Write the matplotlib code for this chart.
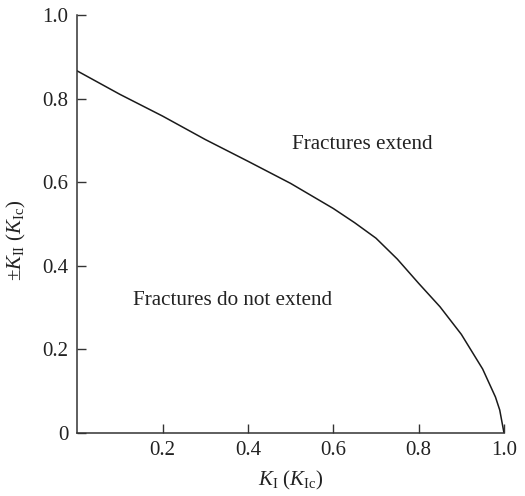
import matplotlib
matplotlib.use("Agg")
import matplotlib.pyplot as plt

# Curva de propagacion de fracturas
k1 = [0.0, 0.1, 0.2, 0.3, 0.4, 0.5, 0.6, 0.65, 0.7, 0.75, 0.8, 0.85, 0.9, 0.95, 0.98, 0.99, 1.0]
k2 = [0.866, 0.810, 0.758, 0.702, 0.650, 0.597, 0.537, 0.503, 0.466, 0.416, 0.358, 0.302, 0.236, 0.153, 0.086, 0.055, 0.0]

x_ticks = [0.2, 0.4, 0.6, 0.8, 1.0]
x_labels = ["0.2", "0.4", "0.6", "0.8", "1.0"]
y_ticks = [0, 0.2, 0.4, 0.6, 0.8, 1.0]
y_labels = ["0", "0.2", "0.4", "0.6", "0.8", "1.0"]

plt.rcParams["font.family"] = ["Liberation Serif", "DejaVu Serif"]
plt.rcParams["mathtext.fontset"] = "custom"
plt.rcParams["mathtext.rm"] = "Liberation Serif"
plt.rcParams["mathtext.it"] = "Liberation Serif:italic"

fig = plt.figure(figsize=(5.25, 4.96), dpi=100)
ax = fig.add_axes([0.147, 0.127, 0.813, 0.843])

ax.plot(k1, k2, color="#1a1a1a", lw=1.1)

ax.set_xlim(0, 1.0)
ax.set_ylim(0, 1.0)
ax.set_xticks(x_ticks)
ax.set_xticklabels(x_labels)
ax.set_yticks(y_ticks)
ax.set_yticklabels(y_labels)
ax.tick_params(direction="in", length=6.5, width=1, labelsize=15, colors="#333333",
               labelcolor="#222222")
ax.tick_params(axis="y", pad=6.5)
ax.tick_params(axis="x", pad=6)

for s in ["top", "right"]:
    ax.spines[s].set_visible(False)
for s in ["left", "bottom"]:
    ax.spines[s].set_color("#333333")
    ax.spines[s].set_linewidth(1.1)

ax.set_xlabel(r"$K_{\rm I}$ $(K_{\rm Ic})$", fontsize=15, color="#222222")
ax.set_ylabel(r"$\pm K_{\rm II}$ $(K_{\rm Ic})$", fontsize=15, color="#222222")
ax.xaxis.set_label_coords(0.5, -0.085)
ax.yaxis.set_label_coords(-0.116, 0.46)

ax.text(0.667, 0.689, "Fractures extend", ha="center", va="center", fontsize=15.2, color="#222222")
ax.text(0.365, 0.318, "Fractures do not extend", ha="center", va="center", fontsize=15.2, color="#222222")

fig.savefig("out.png", dpi=100)
